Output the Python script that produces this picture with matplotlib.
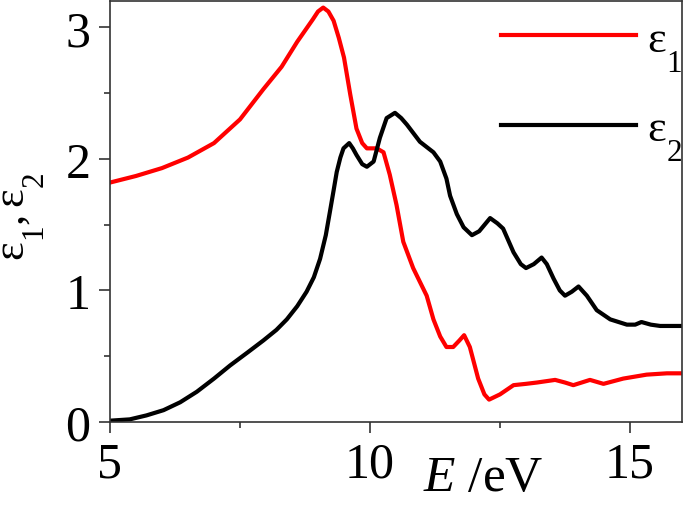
import matplotlib
matplotlib.use("Agg")
import matplotlib.pyplot as plt
from matplotlib.ticker import MultipleLocator

plt.rcParams['font.family'] = ['Liberation Serif', 'DejaVu Serif']
plt.rcParams['mathtext.fontset'] = 'custom'
plt.rcParams['mathtext.rm'] = 'Liberation Serif'
plt.rcParams['mathtext.it'] = 'Liberation Serif:italic'
try:
    import matplotlib._mathtext as _mt
    _mt.FontConstantsBase.sub1 = 1.0
    _mt.FontConstantsBase.sub2 = 1.0
    _mt.FontConstantsBase.subdrop = 0.9
except Exception:
    pass

# epsilon_1 (red)
e1_x = [5.0, 5.5, 6.0, 6.5, 7.0, 7.5, 7.95, 8.3, 8.6, 8.9, 9.0, 9.1, 9.2, 9.3, 9.4, 9.5,
        9.62, 9.74, 9.85, 9.94, 10.13, 10.26, 10.38, 10.51, 10.64, 10.83, 11.09,
        11.22, 11.35, 11.47, 11.6, 11.72, 11.81, 11.92, 12.08, 12.2, 12.29, 12.5,
        12.76, 13.0, 13.21, 13.56, 13.75, 13.91, 14.23, 14.49, 14.87, 15.32, 15.71, 16.0]
e1_y = [1.82, 1.87, 1.93, 2.01, 2.12, 2.30, 2.53, 2.70, 2.89, 3.06, 3.12, 3.15, 3.12, 3.05, 2.92, 2.77,
        2.49, 2.23, 2.12, 2.08, 2.08, 2.05, 1.88, 1.65, 1.37, 1.17, 0.96,
        0.78, 0.65, 0.57, 0.57, 0.62, 0.66, 0.57, 0.33, 0.21, 0.17, 0.21,
        0.28, 0.29, 0.30, 0.32, 0.30, 0.28, 0.32, 0.29, 0.33, 0.36, 0.37, 0.37]

# epsilon_2 (black)
e2_x = [5.0, 5.38, 5.7, 6.03, 6.35, 6.67, 7.0, 7.31, 7.65, 7.95, 8.2, 8.4, 8.6, 8.78, 8.92,
        9.04, 9.15, 9.23, 9.3, 9.36, 9.43, 9.49, 9.6, 9.67, 9.74, 9.85, 9.94, 10.07,
        10.19, 10.32, 10.48, 10.6, 10.71, 10.96, 11.22, 11.35, 11.47, 11.54, 11.67,
        11.8, 11.96, 12.1, 12.31, 12.45, 12.56, 12.76, 12.9, 13.0, 13.15, 13.3, 13.4,
        13.53, 13.65, 13.75, 13.88, 14.01, 14.17, 14.36, 14.62, 14.94, 15.1, 15.22,
        15.4, 15.58, 16.0]
e2_y = [0.01, 0.02, 0.05, 0.09, 0.15, 0.23, 0.33, 0.43, 0.53, 0.62, 0.70, 0.78, 0.88, 0.99, 1.10,
        1.24, 1.42, 1.60, 1.76, 1.90, 2.01, 2.08, 2.12, 2.08, 2.03, 1.96, 1.94, 1.98,
        2.16, 2.31, 2.35, 2.31, 2.26, 2.13, 2.05, 1.98, 1.85, 1.72, 1.58,
        1.48, 1.42, 1.45, 1.55, 1.51, 1.47, 1.29, 1.20, 1.17, 1.20, 1.25, 1.20,
        1.09, 1.00, 0.96, 0.99, 1.03, 0.96, 0.85, 0.78, 0.74, 0.74, 0.76,
        0.74, 0.73, 0.73]

x_ticks = [5, 10, 15]
y_ticks = [0, 1, 2, 3]
labels = [r'$\mathrm{ε}_{1}$', r'$\mathrm{ε}_{2}$']

fig = plt.figure(figsize=(6.85, 5.06), dpi=100)
ax = fig.add_axes([110/685, 83/506, 572/685, 421/506])

ax.plot(e1_x, e1_y, color='#ff0000', lw=3, label=labels[0])
ax.plot(e2_x, e2_y, color='black', lw=3, label=labels[1])

ax.set_xlim(5, 16)
ax.set_ylim(0, 3.2)
ax.set_xticks(x_ticks)
ax.set_yticks(y_ticks)
ax.xaxis.set_minor_locator(MultipleLocator(2.5))
ax.yaxis.set_minor_locator(MultipleLocator(0.5))
ax.tick_params(which='major', direction='out', length=8, width=1.2, labelsize=36, pad=6, color='#333333')
ax.tick_params(which='minor', direction='out', length=4, width=1.2, color='#333333')
for s in ax.spines.values():
    s.set_linewidth(1.2)
    s.set_color('#333333')

ax.set_ylabel(r'$\mathrm{ε}_{1}, \mathrm{ε}_{2}$', fontsize=32)
ax.yaxis.set_label_coords(-0.112, 0.49)
ax.set_xlabel(r'$E$ /eV', fontsize=37)
ax.xaxis.set_label_coords(0.652, -0.078)

leg = ax.legend(loc='upper left', bbox_to_anchor=(0.652, 0.998), frameon=False, fontsize=32,
                handlelength=3.05, handletextpad=0.25, labelspacing=0.82, borderaxespad=0)

fig.savefig('out.png', dpi=100)
